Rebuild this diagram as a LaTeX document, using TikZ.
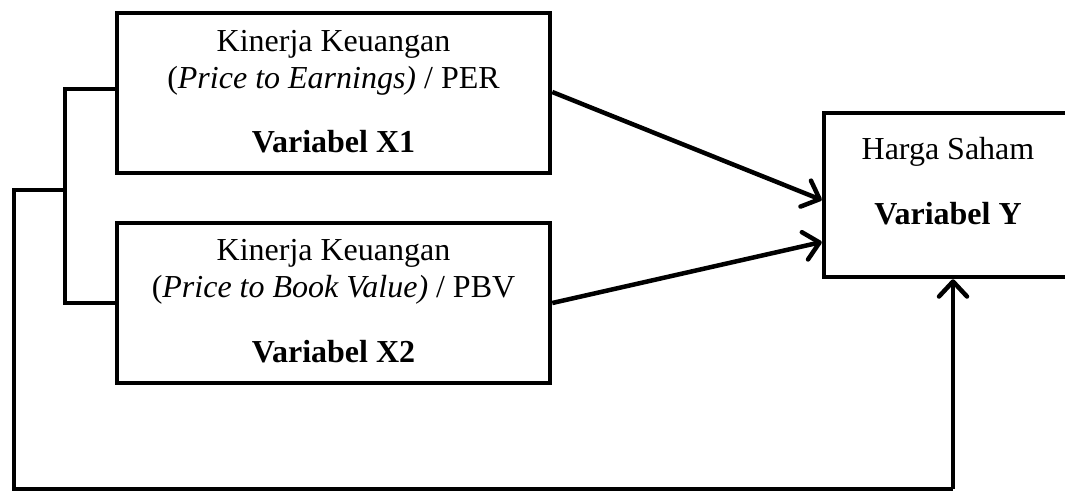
\documentclass[tikz,border=0pt]{standalone}
\usepackage{fontspec}
\setmainfont{Liberation Serif}
\usetikzlibrary{arrows.meta}
\begin{document}
\begin{tikzpicture}[x=1pt,y=-1pt,
  varbox/.style={draw, line width=4.5pt, fill=white, inner sep=0pt},
  txt/.style={anchor=base, inner sep=0pt, font=\fontsize{32}{37}\selectfont},
  link/.style={line width=4.5pt, line join=miter},
  arr/.style={link, -{Straight Barb[length=15pt,width=28pt,line width=4.5pt,round]}}]
\useasboundingbox (0,0) rectangle (1065,491);
\clip (0,0) rectangle (1065,491);
\node[varbox, minimum width=433pt, minimum height=160pt] (X1) at (333.5,93) {};
\node[varbox, minimum width=433pt, minimum height=160pt] (X2) at (333.5,303) {};
\node[varbox, minimum width=251pt, minimum height=164pt] (Y) at (949.5,195) {};
\node[txt] (X1a) at ([yshift=-41pt]X1.north) {Kinerja Keuangan};
\node[txt] (X1b) at ([yshift=-78pt]X1.north) {(\textit{Price to Earnings)} / PER};
\node[txt] (X1c) at ([yshift=-142pt]X1.north) {\textbf{Variabel X1}};
\node[txt] (X2a) at ([yshift=-40pt]X2.north) {Kinerja Keuangan};
\node[txt] (X2b) at ([yshift=-77pt]X2.north) {(\textit{Price to Book Value)} / PBV};
\node[txt] (X2c) at ([yshift=-142pt]X2.north) {\textbf{Variabel X2}};
\node[txt] (Ya) at ([xshift=-1.5pt,yshift=-49pt]Y.north) {Harga Saham};
\node[txt] (Yb) at ([xshift=-1.5pt,yshift=-114pt]Y.north) {\textbf{Variabel Y}};
\coordinate (B1) at (65,89);
\coordinate (B2) at (65,303);
\coordinate (O1) at (65,190);
\coordinate (O2) at (14,190);
\coordinate (O3) at (14,489);
\coordinate (O4) at (953,489);
\draw[link] (X1.west |- B1) -- (B1) -- (B2) -- (X2.west |- B2);
\draw[link] (O1) -- (O2) -- (O3) -- (O4);
\draw[arr] (O4) -- (O4 |- Y.south);
\draw[arr] ([yshift=1pt]X1.east) -- ([yshift=-5pt]Y.west);
\draw[arr] (X2.east) -- ([yshift=-47pt]Y.west);
\end{tikzpicture}
\end{document}
